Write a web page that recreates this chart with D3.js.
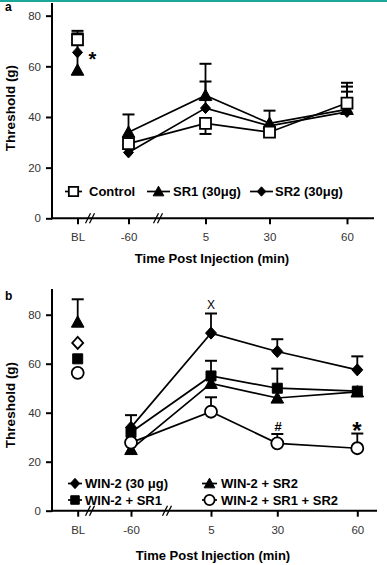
<!DOCTYPE html>
<html><head><meta charset="utf-8">
<script src="https://cdn.jsdelivr.net/npm/d3@7"></script>
<style>body{margin:0;background:#fff}</style>
</head><body>
<svg id="c" width="387" height="565"></svg>
<script>
// ---------- data ----------
const categories = ["BL", "-60", "5", "30", "60"];
const yTicks = [0, 20, 40, 60, 80];
// panel a
const controlA   = [70.5, 29.5, 37.5, 34, 45.5];
const controlErrA = [3.5, 0, -4.2, 0, 4.5];
const sr1A       = [58.5, 34, 48.5, 37.5, 43];
const sr1ErrA    = [14.5, 7, 12.5, 5, 10.5];
const sr2A       = [65.5, 26, 43.5, 36.5, 42];
const sr2ErrA    = [0, 0, 10.5, 0, 10];
// panel b
const winB          = [68.5, 34, 72.5, 65, 57.5];
const winErrB       = [0, 5, 8, 5, 5.5];
const winSr1B       = [62, 32, 55, 50, 48.8];
const winSr1ErrB    = [0, 0, 6.2, 8, 0];
const winSr2B       = [77, 25, 52, 46, 48.5];
const winSr2ErrB    = [9.3, 0, 0, 0, 0];
const winSr1Sr2B    = [56.3, 27.8, 40.4, 27.5, 25.5];
const winSr1Sr2ErrB = [0, 0, 5.9, 3.8, 6];

// ---------- drawing ----------
const svg = d3.select("#c");
const FONT = "'Liberation Sans', Arial, sans-serif";

svg.append("rect").attr("x", 0).attr("y", 0).attr("width", 387).attr("height", 2).attr("fill", "#1ba89b");

function markerPath(type, s) {
  const h = s / 2;
  if (type === "square") return `M${-h},${-h}H${h}V${h}H${-h}Z`;
  if (type === "triangle") return `M0,${-h * 1.05}L${h * 1.05},${h * 0.85}L${-h * 1.05},${h * 0.85}Z`;
  if (type === "diamond") return `M0,${-h * 1.1}L${h},0L0,${h * 1.1}L${-h},0Z`;
  if (type === "circle") return `M${-h},0A${h},${h} 0 1,0 ${h},0A${h},${h} 0 1,0 ${-h},0Z`;
}

function drawMarker(g, type, open, size, x, y) {
  g.append("path").attr("d", markerPath(type, size))
    .attr("transform", `translate(${x},${y})`)
    .attr("fill", open ? "#fff" : "#000")
    .attr("stroke", "#000").attr("stroke-width", open ? 1.8 : 1);
}

function drawPanel(cfg) {
  const g = svg.append("g");
  const x = d3.scaleOrdinal().domain(categories).range(cfg.xPos);
  const y = d3.scaleLinear().domain(cfg.yDomain).range([cfg.y0, cfg.yTop]);

  // axes
  const ya = g.append("g").attr("transform", `translate(${cfg.left},0)`)
    .call(d3.axisLeft(y).tickValues(yTicks).tickSize(6).tickSizeOuter(0).tickPadding(5));
  const xa = g.append("g").attr("transform", `translate(0,${cfg.y0})`)
    .call(d3.axisBottom(x).tickSize(6).tickSizeOuter(0).tickPadding(9));
  [ya, xa].forEach(a => {
    a.select(".domain").remove();
    a.selectAll(".tick line").attr("stroke", "#000").attr("stroke-width", 2);
    a.selectAll(".tick text").attr("font-family", FONT).attr("font-size", 11.5).attr("fill", "#333");
  });
  g.append("line").attr("x1", cfg.left).attr("x2", cfg.left).attr("y1", cfg.yTop).attr("y2", cfg.y0 + 1)
    .attr("stroke", "#000").attr("stroke-width", 2);
  g.append("line").attr("x1", cfg.left - 1).attr("x2", cfg.right).attr("y1", cfg.y0).attr("y2", cfg.y0)
    .attr("stroke", "#000").attr("stroke-width", 2);
  // axis breaks
  cfg.breaks.forEach(bx => {
    [-2, 2].forEach(o => {
      g.append("line").attr("x1", bx + o - 2.5).attr("x2", bx + o + 2.5)
        .attr("y1", cfg.y0 + 5).attr("y2", cfg.y0 - 5)
        .attr("stroke", "#000").attr("stroke-width", 1.3);
    });
  });

  // axis titles
  g.append("text").attr("x", cfg.xTitleX).attr("y", cfg.xTitleY).attr("text-anchor", "middle")
    .attr("font-family", FONT).attr("font-weight", "bold").attr("font-size", 13).text("Time Post Injection (min)");
  g.append("text").attr("transform", `translate(${cfg.yTitleX},${cfg.yTitleY}) rotate(-90)`).attr("text-anchor", "middle")
    .attr("font-family", FONT).attr("font-weight", "bold").attr("font-size", 13.5).text("Threshold (g)");
  g.append("text").attr("x", 5).attr("y", cfg.labelY)
    .attr("font-family", FONT).attr("font-weight", "bold").attr("font-size", 12).text(cfg.label);

  // lines (from -60 onward; BL is separated by the break)
  const line = d3.line().x(d => x(d.c)).y(d => y(d.v));
  cfg.series.forEach(s => {
    const pts = categories.map((c, i) => ({ c, v: s.values[i] })).slice(1);
    g.append("path").attr("d", line(pts)).attr("fill", "none").attr("stroke", "#000").attr("stroke-width", 1.7);
  });
  // error bars
  cfg.series.forEach(s => {
    categories.forEach((c, i) => {
      const e = s.err[i];
      if (!e) return;
      const cx = x(c), y1 = y(s.values[i]), y2 = y(s.values[i] + e);
      g.append("line").attr("x1", cx).attr("x2", cx).attr("y1", y1).attr("y2", y2).attr("stroke", "#000").attr("stroke-width", 1.8);
      g.append("line").attr("x1", cx - 6).attr("x2", cx + 6).attr("y1", y2).attr("y2", y2).attr("stroke", "#000").attr("stroke-width", 2);
    });
  });
  // markers
  cfg.series.forEach(s => {
    categories.forEach((c, i) => {
      const open = s.openAt ? s.openAt.includes(c) : s.open;
      drawMarker(g, s.type, open, s.size, x(c), y(s.values[i]));
    });
  });

  // legend
  cfg.legend.forEach(L => {
    const s = cfg.series[L.idx];
    g.append("line").attr("x1", L.x1).attr("x2", L.x2).attr("y1", L.y).attr("y2", L.y).attr("stroke", "#000").attr("stroke-width", 1.7);
    drawMarker(g, s.type, s.open, s.size * 0.85, (L.x1 + L.x2) / 2, L.y);
    g.append("text").attr("x", L.tx).attr("y", L.y).attr("dy", "0.36em")
      .attr("font-family", FONT).attr("font-weight", "bold").attr("font-size", 13).text(s.name);
  });

  // annotations
  cfg.notes.forEach(n => {
    g.append("text").attr("x", n.x).attr("y", n.y).attr("text-anchor", "middle")
      .attr("font-family", FONT).attr("font-weight", n.bold ? "bold" : "normal").attr("font-size", n.size).text(n.t);
  });
  return { x, y };
}

drawPanel({
  label: "a", labelY: 11,
  left: 52, right: 374, y0: 218.3, yTop: 3, yDomain: [0, 85],
  xPos: [77.5, 128.5, 205.5, 269.5, 347],
  breaks: [90, 158],
  xTitleX: 212, xTitleY: 263, yTitleX: 15, yTitleY: 108,
  series: [
    { name: "SR1 (30\u03bcg)", values: sr1A, err: sr1ErrA, type: "triangle", open: false, size: 12 },
    { name: "SR2 (30\u03bcg)", values: sr2A, err: sr2ErrA, type: "diamond", open: false, size: 10 },
    { name: "Control", values: controlA, err: controlErrA, type: "square", open: true, size: 11 }
  ],
  legend: [
    { idx: 2, x1: 65, x2: 82, y: 191.5, tx: 89 },
    { idx: 0, x1: 147, x2: 170, y: 191.5, tx: 173 },
    { idx: 1, x1: 250, x2: 273, y: 191.5, tx: 275 }
  ],
  notes: [{ t: "*", x: 92.5, y: 66, size: 20, bold: true }]
});

drawPanel({
  label: "b", labelY: 300,
  left: 52, right: 377, y0: 510.7, yTop: 289, yDomain: [0, 90.5],
  xPos: [77.7, 131, 211, 277.3, 357.3],
  breaks: [90, 167],
  xTitleX: 213, xTitleY: 560, yTitleX: 15, yTitleY: 405,
  series: [
    { name: "WIN-2 + SR2", values: winSr2B, err: winSr2ErrB, type: "triangle", open: false, size: 12 },
    { name: "WIN-2 + SR1", values: winSr1B, err: winSr1ErrB, type: "square", open: false, size: 10 },
    { name: "WIN-2 (30 \u03bcg)", values: winB, err: winErrB, type: "diamond", open: false, openAt: ["BL"], size: 11 },
    { name: "WIN-2 + SR1 + SR2", values: winSr1Sr2B, err: winSr1Sr2ErrB, type: "circle", open: true, size: 12 }
  ],
  legend: [
    { idx: 2, x1: 68, x2: 82, y: 483.5, tx: 85 },
    { idx: 0, x1: 202, x2: 217, y: 483.5, tx: 221 },
    { idx: 1, x1: 68, x2: 82, y: 500, tx: 85 },
    { idx: 3, x1: 202, x2: 217, y: 500, tx: 221 }
  ],
  notes: [
    { t: "X", x: 211, y: 308.5, size: 12, bold: false },
    { t: "#", x: 278, y: 430.5, size: 13, bold: true },
    { t: "*", x: 357, y: 438.5, size: 24, bold: true }
  ]
});
</script>
</body></html>
